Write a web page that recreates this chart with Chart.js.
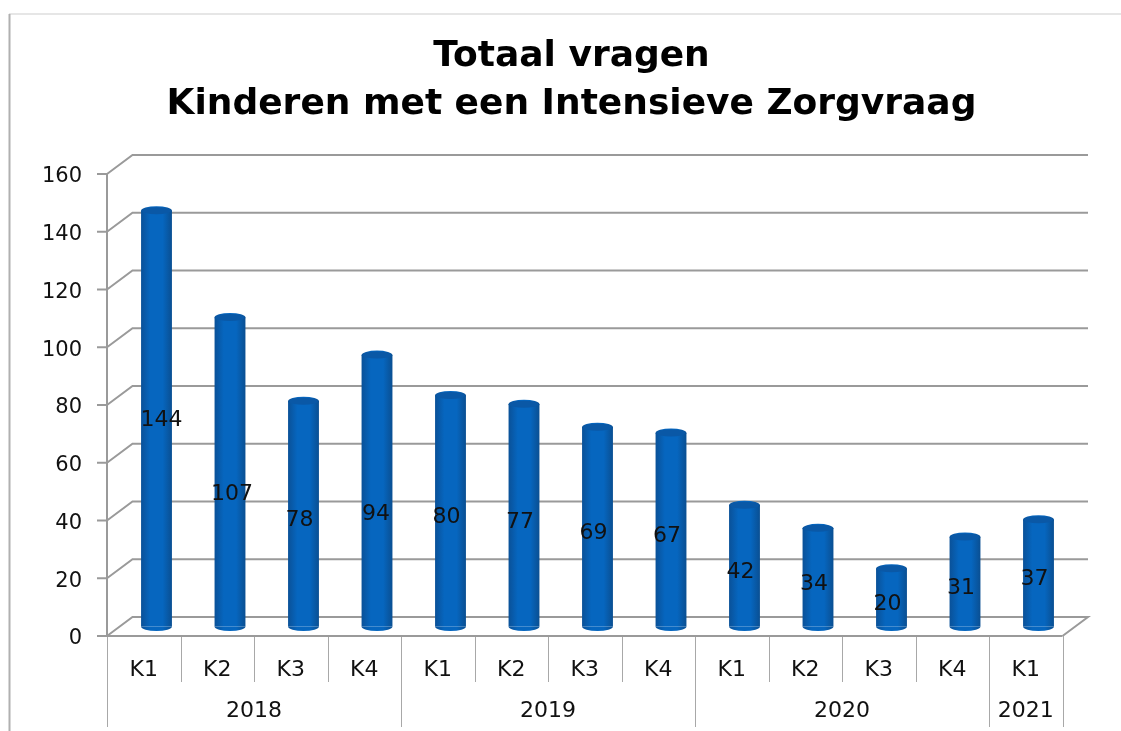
<!DOCTYPE html>
<html>
<head>
<meta charset="utf-8">
<title>Totaal vragen</title>
<script src="https://cdn.jsdelivr.net/npm/chart.js@4/dist/chart.umd.min.js"></script>
<style>
  html, body { margin: 0; padding: 0; background: #fff; }
  #wrap { width: 1121px; height: 731px; }
</style>
</head>
<body>
<div id="wrap"><canvas id="chart" width="1121" height="731"></canvas></div>
<script>
// Data
const quarters = ['K1', 'K2', 'K3', 'K4', 'K1', 'K2', 'K3', 'K4', 'K1', 'K2', 'K3', 'K4', 'K1'];
const values = [144, 107, 78, 94, 80, 77, 69, 67, 42, 34, 20, 31, 37];
const years = ['2018', '2019', '2020', '2021'];
const quartersPerYear = [4, 4, 4, 1];
const yTicks = [0, 20, 40, 60, 80, 100, 120, 140, 160];

// 3D look of the old spreadsheet chart
const DEPTH_X = 25.5;
const DEPTH_Y = 19;
const AXIS_COLOR = '#9a9a9a';
const TEXT_COLOR = '#111';
const FONT = "'DejaVu Sans', Verdana, sans-serif";

// a few data labels were dragged by hand in the original
const labelNudge = { 0: [5, -5], 1: [2, 16], 3: [-1, 17] };

function barGradient(ctx) {
    const chart = ctx.chart;
    const x = chart.scales.x;
    if (!x || ctx.dataIndex === undefined) return '#0a64b5';
    const half = x.width / quarters.length * 0.42 / 2;
    // the canvas is already translated when this paints, so no depth offset here
    const cx = x.getPixelForValue(ctx.dataIndex);
    if (!isFinite(cx) || !isFinite(half)) return '#0a64b5';
    const g = chart.ctx.createLinearGradient(cx - half, 0, cx + half, 0);
    g.addColorStop(0, '#0a5198');
    g.addColorStop(0.3, '#0666bf');
    g.addColorStop(0.7, '#0666bf');
    g.addColorStop(1, '#0a4f92');
    return g;
}

// Back wall, floor and the two-level category axis
const wallPlugin = {
    id: 'wall',
    // title is centred on the whole picture minus the left margin, not on the plot
    afterLayout(chart) {
        chart.titleBlock.left = 22;
        chart.titleBlock.right = chart.width;
    },
    beforeDatasetsDraw(chart) {
        const { ctx, chartArea: a, scales: { x, y } } = chart;
        const bottom = chart.height - 4;
        ctx.save();

        // picture frame
        ctx.strokeStyle = '#e6e6e6';
        ctx.lineWidth = 2;
        ctx.beginPath();
        ctx.moveTo(9, 14);
        ctx.lineTo(chart.width, 14);
        ctx.stroke();
        ctx.strokeStyle = '#b0b0b0';
        ctx.beginPath();
        ctx.moveTo(9.5, 14);
        ctx.lineTo(9.5, chart.height);
        ctx.stroke();

        // gridlines wrap from the side wall on to the back wall
        ctx.strokeStyle = AXIS_COLOR;
        ctx.lineWidth = 2;
        yTicks.forEach(v => {
            const py = y.getPixelForValue(v);
            ctx.beginPath();
            ctx.moveTo(a.left, py);
            ctx.lineTo(a.left + DEPTH_X, py - DEPTH_Y);
            ctx.lineTo(a.right + DEPTH_X, py - DEPTH_Y);
            if (v === 0) ctx.lineTo(a.right, py);
            ctx.stroke();
        });

        // quarter separators
        const step = x.width / quarters.length;
        ctx.lineWidth = 1;
        ctx.strokeStyle = '#a8a8a8';
        quarters.forEach((q, i) => {
            const px = Math.round(a.left + step * (i + 1)) + 0.5;
            ctx.beginPath();
            ctx.moveTo(px, a.bottom);
            ctx.lineTo(px, a.bottom + 46);
            ctx.stroke();
        });

        // year groups
        ctx.fillStyle = TEXT_COLOR;
        ctx.font = '22px ' + FONT;
        ctx.textAlign = 'center';
        ctx.textBaseline = 'middle';
        let start = 0;
        years.forEach((label, i) => {
            const end = start + quartersPerYear[i];
            const px = Math.round(a.left + step * end) + 0.5;
            ctx.beginPath();
            ctx.moveTo(px, a.bottom);
            ctx.lineTo(px, bottom);
            ctx.stroke();
            ctx.fillText(label, a.left + step * (start + end) / 2, a.bottom + 75);
            start = end;
        });
        ctx.beginPath();
        ctx.moveTo(Math.round(a.left) + 0.5, a.bottom);
        ctx.lineTo(Math.round(a.left) + 0.5, bottom);
        ctx.stroke();

        // axis lines
        ctx.strokeStyle = AXIS_COLOR;
        ctx.lineWidth = 2;
        ctx.beginPath();
        ctx.moveTo(a.left, a.top);
        ctx.lineTo(a.left, a.bottom);
        ctx.moveTo(a.left - 10, a.bottom);
        ctx.lineTo(a.right, a.bottom);
        yTicks.forEach(v => {
            const py = y.getPixelForValue(v);
            ctx.moveTo(a.left - 10, py);
            ctx.lineTo(a.left, py);
        });
        ctx.stroke();
        ctx.restore();
    },
    // push bars half way into the depth of the plot
    beforeDatasetDraw(chart) {
        chart.ctx.save();
        chart.ctx.translate(DEPTH_X / 2, -DEPTH_Y / 2);
    },
    afterDatasetDraw(chart, args) {
        const ctx = chart.ctx;
        args.meta.data.forEach((bar, i) => {
            const rx = bar.width / 2;
            // round bottom
            ctx.fillStyle = barGradient({ chart, dataIndex: i });
            ctx.beginPath();
            ctx.ellipse(bar.x, bar.base, rx, 4.5, 0, 0, Math.PI);
            ctx.fill();
            // body top cap
            ctx.beginPath();
            ctx.ellipse(bar.x, bar.y, rx, 4.5, 0, 0, Math.PI * 2);
            ctx.fill();
            ctx.fillStyle = '#0a58a6';
            ctx.beginPath();
            ctx.ellipse(bar.x, bar.y, rx - 1, 3.5, 0, 0, Math.PI * 2);
            ctx.fill();
        });
        ctx.restore();
    },
    afterDatasetsDraw(chart) {
        const ctx = chart.ctx;
        const meta = chart.getDatasetMeta(0);
        ctx.save();
        ctx.fillStyle = TEXT_COLOR;
        ctx.font = '22px ' + FONT;
        ctx.textAlign = 'center';
        ctx.textBaseline = 'middle';
        meta.data.forEach((bar, i) => {
            const nudge = labelNudge[i] || [-4, 0];
            ctx.fillText(
                String(values[i]),
                bar.x + DEPTH_X / 2 + nudge[0],
                (bar.y + bar.base) / 2 - 3 + nudge[1]
            );
        });
        ctx.restore();
    }
};

new Chart(document.getElementById('chart'), {
    type: 'bar',
    data: {
        labels: quarters,
        datasets: [{
            data: values,
            backgroundColor: barGradient,
            borderWidth: 0,
            barPercentage: 0.42,
            categoryPercentage: 1,
            clip: false
        }]
    },
    plugins: [wallPlugin],
    options: {
        responsive: false,
        animation: false,
        layout: { padding: { left: 22, right: 58.5 } },
        plugins: {
            legend: { display: false },
            tooltip: { enabled: false },
            title: {
                display: true,
                text: ['Totaal vragen', 'Kinderen met een Intensieve Zorgvraag'],
                color: '#000',
                font: { family: FONT, size: 36, weight: 'bold', lineHeight: 1.333 },
                padding: { top: 33, bottom: 45 }
            }
        },
        scales: {
            x: {
                grid: { display: false },
                border: { display: false },
                ticks: { color: TEXT_COLOR, font: { family: FONT, size: 22 }, padding: 13, maxRotation: 0, autoSkip: false },
                afterFit(scale) { scale.height = 95; }
            },
            y: {
                min: 0,
                max: 160,
                grid: { display: false },
                border: { display: false },
                ticks: { color: TEXT_COLOR, stepSize: 20, font: { family: FONT, size: 21 }, padding: 17, labelOffset: 3 },
                afterFit(scale) { scale.width = 85; }
            }
        }
    }
});
</script>
</body>
</html>
